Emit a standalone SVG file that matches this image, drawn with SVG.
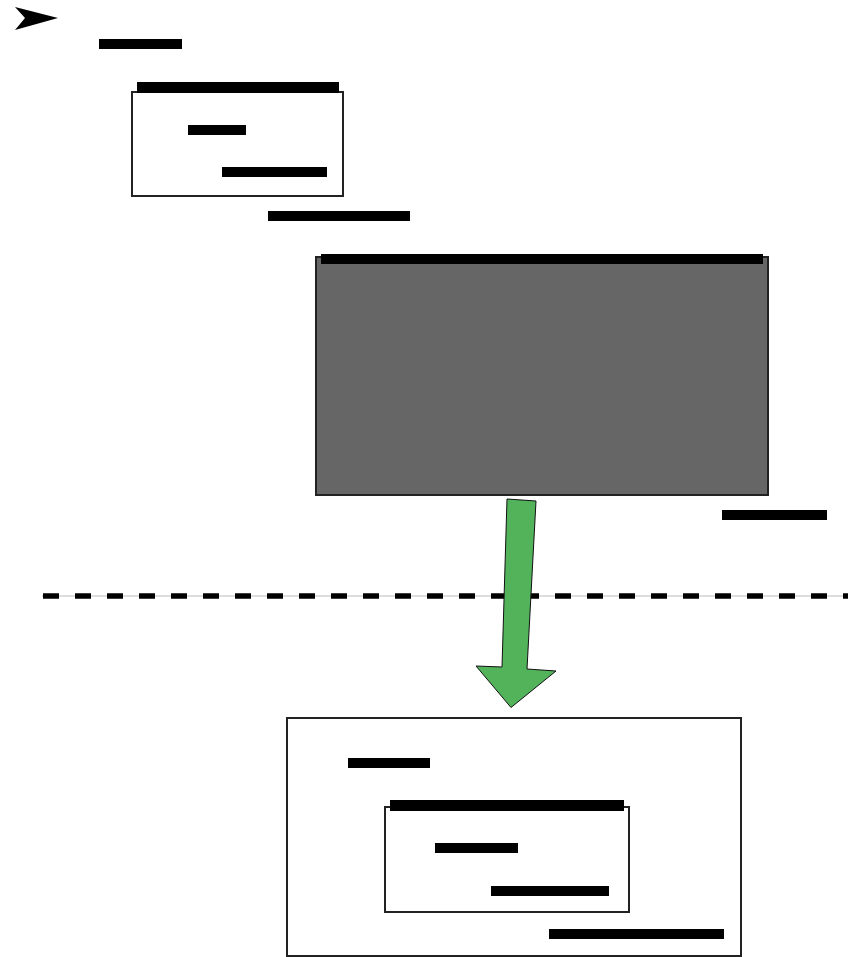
<svg xmlns="http://www.w3.org/2000/svg" width="848" height="957" viewBox="0 0 848 957">
  <style>
    .bar { fill: #000; }
    .box { fill: #fff; stroke: #222; stroke-width: 2; }
    .dark { fill: #666; stroke: #222; stroke-width: 2; }
  </style>
  <rect width="848" height="957" fill="#fff"/>

  <!-- pointer mark and heading -->
  <g id="marker">
    <polygon points="15,7 58,18 15,30 25,18" fill="#000"/>
    <rect class="bar" x="99" y="39" width="83" height="10"/>
  </g>

  <!-- first small node -->
  <g id="node-a">
    <rect class="box" x="132" y="92" width="211" height="104"/>
    <rect class="bar" x="137" y="82" width="202" height="11"/>
    <rect class="bar" x="188" y="125" width="58" height="10"/>
    <rect class="bar" x="222" y="167" width="105" height="10"/>
  </g>
  <rect class="bar" x="268" y="211" width="142" height="10"/>

  <!-- large dark node -->
  <g id="node-b">
    <rect class="dark" x="316" y="257" width="452" height="238"/>
    <rect class="bar" x="321" y="254" width="442" height="10"/>
  </g>
  <rect class="bar" x="722" y="510" width="105" height="10"/>

  <!-- separator and transition arrow -->
  <g id="connectors">
    <line x1="42" y1="596" x2="848" y2="596" stroke="#bbb" stroke-width="1"/>
    <line x1="43" y1="596" x2="848" y2="596" stroke="#000" stroke-width="5.5" stroke-dasharray="16 16"/>
    <polygon points="507,499 536,501 527,669 556,671 511,707.5 476,666 502,667" fill="#52b35b" stroke="#111" stroke-width="1"/>
  </g>

  <!-- lower container node -->
  <g id="node-c">
    <rect class="box" x="287" y="718" width="454" height="238"/>
    <rect class="bar" x="348" y="758" width="82" height="10"/>
  </g>
  <g id="node-d">
    <rect class="box" x="385" y="807" width="244" height="105"/>
    <rect class="bar" x="390" y="800" width="234" height="11"/>
    <rect class="bar" x="435" y="843" width="83" height="10"/>
    <rect class="bar" x="491" y="886" width="118" height="10"/>
  </g>
  <rect class="bar" x="549" y="929" width="175" height="10"/>
</svg>
